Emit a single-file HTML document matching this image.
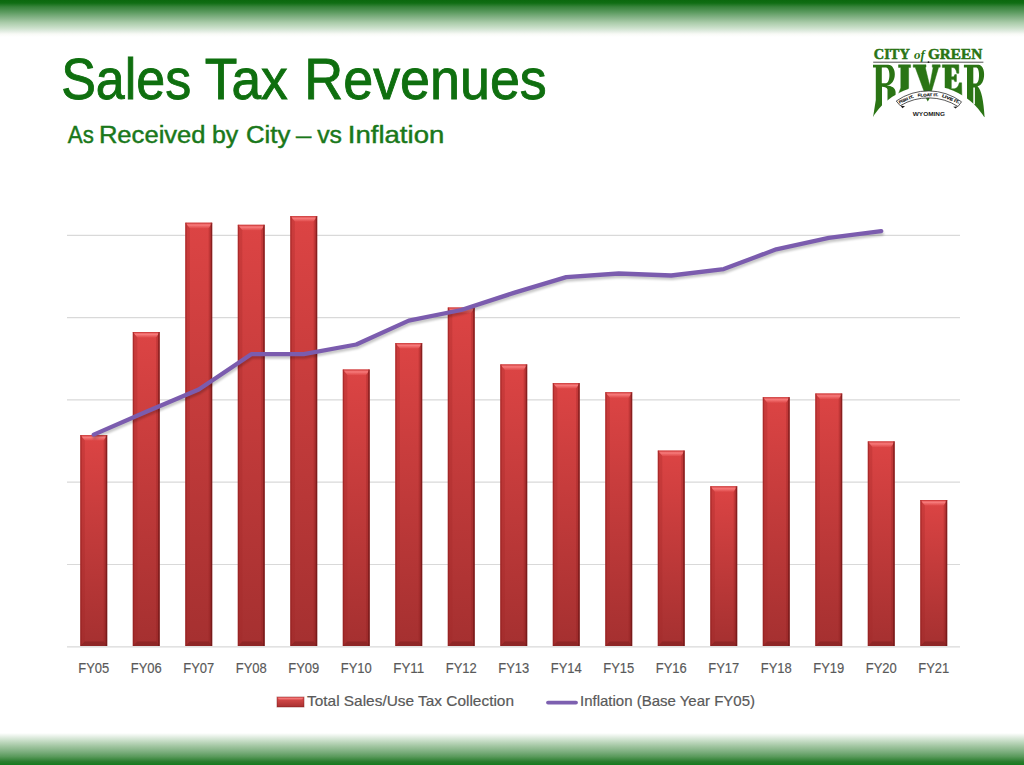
<!DOCTYPE html>
<html><head><meta charset="utf-8">
<style>
html,body{margin:0;padding:0;}
body{width:1024px;height:765px;position:relative;overflow:hidden;background:#fff;font-family:"Liberation Sans",sans-serif;}
.topband{position:absolute;left:0;top:0;width:1024px;height:37px;background:linear-gradient(to bottom,#0b680e 0%,#0f6d13 8%,#37833b 18.4%,#5a9a5e 32.4%,#83b285 46.8%,#a9cba9 60.8%,#c9dfc9 74.9%,#e3ede3 84.9%,#f8faf6 91.9%,#ffffff 100%);}
.botband{position:absolute;left:0;top:732.5px;width:1024px;height:32.5px;background:linear-gradient(to bottom,#ffffff 0%,#eaf2ea 9%,#c5dcc5 25%,#a2c6a2 41%,#7fb081 57.5%,#5a9a5c 73.5%,#2a7d2e 89.5%,#167a1e 100%);}
svg{position:absolute;left:0;top:0;}
.ax{font-family:"Liberation Sans",sans-serif;font-size:15.3px;fill:#595959;stroke:#595959;stroke-width:0.18px;}
.lg{font-family:"Liberation Sans",sans-serif;font-size:14.8px;fill:#595959;stroke:#595959;stroke-width:0.2px;}
</style></head><body>
<div class="topband"></div>
<div class="botband"></div>
<svg width="1024" height="765" viewBox="0 0 1024 765">
<defs>
<linearGradient id="barg" x1="0" y1="0" x2="0" y2="1">
<stop offset="0" stop-color="#dc4444"/><stop offset="1" stop-color="#a53030"/>
</linearGradient>
<linearGradient id="topbev" x1="0" y1="0" x2="0" y2="1">
<stop offset="0" stop-color="#f26a6a" stop-opacity="0.5"/><stop offset="0.45" stop-color="#ff8c8c" stop-opacity="0.75"/><stop offset="1" stop-color="#f26a6a" stop-opacity="0.25"/>
</linearGradient>
<linearGradient id="lgg" x1="0" y1="0" x2="0" y2="1">
<stop offset="0" stop-color="#e05050"/><stop offset="1" stop-color="#a83030"/>
</linearGradient>
<filter id="blur" x="-5%" y="-50%" width="110%" height="200%"><feGaussianBlur stdDeviation="1.2"/></filter>
</defs>
<g font-size="56.5" fill="#0f6f0f" stroke="#0f6f0f" stroke-width="0.9">
<text x="61.2" y="98.5" textLength="130" lengthAdjust="spacingAndGlyphs">Sales</text>
<text x="204.8" y="98.5" textLength="83" lengthAdjust="spacingAndGlyphs">Tax</text>
<text x="304.3" y="98.5" textLength="242.5" lengthAdjust="spacingAndGlyphs">Revenues</text>
</g>
<g font-size="24.6" fill="#1a781a" stroke="#1a781a" stroke-width="0.45">
<text x="67.8" y="142.8" textLength="26.0" lengthAdjust="spacingAndGlyphs">As</text>
<text x="98.9" y="142.8" textLength="106.7" lengthAdjust="spacingAndGlyphs">Received</text>
<text x="212.0" y="142.8" textLength="26.3" lengthAdjust="spacingAndGlyphs">by</text>
<text x="246.0" y="142.8" textLength="44.4" lengthAdjust="spacingAndGlyphs">City</text>
<text x="296.0" y="142.8" textLength="15.3" lengthAdjust="spacingAndGlyphs">–</text>
<text x="317.2" y="142.8" textLength="24.8" lengthAdjust="spacingAndGlyphs">vs</text>
<text x="347.8" y="142.8" textLength="96.5" lengthAdjust="spacingAndGlyphs">Inflation</text>
</g>
<line x1="67" y1="235.3" x2="960" y2="235.3" stroke="#d9d9d9" stroke-width="1.2"/>
<line x1="67" y1="317.6" x2="960" y2="317.6" stroke="#d9d9d9" stroke-width="1.2"/>
<line x1="67" y1="399.9" x2="960" y2="399.9" stroke="#d9d9d9" stroke-width="1.2"/>
<line x1="67" y1="482.2" x2="960" y2="482.2" stroke="#d9d9d9" stroke-width="1.2"/>
<line x1="67" y1="564.5" x2="960" y2="564.5" stroke="#d9d9d9" stroke-width="1.2"/>
<line x1="67" y1="646.8" x2="960" y2="646.8" stroke="#d9d9d9" stroke-width="1.2"/>
<g><rect x="80.30" y="435.1" width="26.9" height="210.90" fill="url(#barg)"/><polygon points="80.30,435.1 107.20,435.1 103.70,440.6 84.80,440.6" fill="url(#topbev)"/><polygon points="80.30,435.1 84.80,440.6 84.80,641.5 80.30,646" fill="#a02828" opacity="0.28"/><polygon points="107.20,435.1 103.70,440.6 103.70,641.5 107.20,646" fill="#8a1e1e" opacity="0.3"/><polygon points="80.30,646 84.80,641.5 103.70,641.5 107.20,646" fill="#5a1010" opacity="0.3"/><rect x="80.30" y="435.1" width="1.3" height="210.90" fill="#8a1818" opacity="0.45"/><rect x="105.70" y="435.1" width="1.5" height="210.90" fill="#5a0c0c" opacity="0.55"/><rect x="80.30" y="435.1" width="26.9" height="1" fill="#b82828" opacity="0.5"/></g>
<g><rect x="132.80" y="332" width="26.9" height="314.00" fill="url(#barg)"/><polygon points="132.80,332 159.70,332 156.20,337.5 137.30,337.5" fill="url(#topbev)"/><polygon points="132.80,332 137.30,337.5 137.30,641.5 132.80,646" fill="#a02828" opacity="0.28"/><polygon points="159.70,332 156.20,337.5 156.20,641.5 159.70,646" fill="#8a1e1e" opacity="0.3"/><polygon points="132.80,646 137.30,641.5 156.20,641.5 159.70,646" fill="#5a1010" opacity="0.3"/><rect x="132.80" y="332" width="1.3" height="314.00" fill="#8a1818" opacity="0.45"/><rect x="158.20" y="332" width="1.5" height="314.00" fill="#5a0c0c" opacity="0.55"/><rect x="132.80" y="332" width="26.9" height="1" fill="#b82828" opacity="0.5"/></g>
<g><rect x="185.30" y="222.7" width="26.9" height="423.30" fill="url(#barg)"/><polygon points="185.30,222.7 212.20,222.7 208.70,228.2 189.80,228.2" fill="url(#topbev)"/><polygon points="185.30,222.7 189.80,228.2 189.80,641.5 185.30,646" fill="#a02828" opacity="0.28"/><polygon points="212.20,222.7 208.70,228.2 208.70,641.5 212.20,646" fill="#8a1e1e" opacity="0.3"/><polygon points="185.30,646 189.80,641.5 208.70,641.5 212.20,646" fill="#5a1010" opacity="0.3"/><rect x="185.30" y="222.7" width="1.3" height="423.30" fill="#8a1818" opacity="0.45"/><rect x="210.70" y="222.7" width="1.5" height="423.30" fill="#5a0c0c" opacity="0.55"/><rect x="185.30" y="222.7" width="26.9" height="1" fill="#b82828" opacity="0.5"/></g>
<g><rect x="237.80" y="224.8" width="26.9" height="421.20" fill="url(#barg)"/><polygon points="237.80,224.8 264.70,224.8 261.20,230.3 242.30,230.3" fill="url(#topbev)"/><polygon points="237.80,224.8 242.30,230.3 242.30,641.5 237.80,646" fill="#a02828" opacity="0.28"/><polygon points="264.70,224.8 261.20,230.3 261.20,641.5 264.70,646" fill="#8a1e1e" opacity="0.3"/><polygon points="237.80,646 242.30,641.5 261.20,641.5 264.70,646" fill="#5a1010" opacity="0.3"/><rect x="237.80" y="224.8" width="1.3" height="421.20" fill="#8a1818" opacity="0.45"/><rect x="263.20" y="224.8" width="1.5" height="421.20" fill="#5a0c0c" opacity="0.55"/><rect x="237.80" y="224.8" width="26.9" height="1" fill="#b82828" opacity="0.5"/></g>
<g><rect x="290.30" y="216.1" width="26.9" height="429.90" fill="url(#barg)"/><polygon points="290.30,216.1 317.20,216.1 313.70,221.6 294.80,221.6" fill="url(#topbev)"/><polygon points="290.30,216.1 294.80,221.6 294.80,641.5 290.30,646" fill="#a02828" opacity="0.28"/><polygon points="317.20,216.1 313.70,221.6 313.70,641.5 317.20,646" fill="#8a1e1e" opacity="0.3"/><polygon points="290.30,646 294.80,641.5 313.70,641.5 317.20,646" fill="#5a1010" opacity="0.3"/><rect x="290.30" y="216.1" width="1.3" height="429.90" fill="#8a1818" opacity="0.45"/><rect x="315.70" y="216.1" width="1.5" height="429.90" fill="#5a0c0c" opacity="0.55"/><rect x="290.30" y="216.1" width="26.9" height="1" fill="#b82828" opacity="0.5"/></g>
<g><rect x="342.80" y="369.5" width="26.9" height="276.50" fill="url(#barg)"/><polygon points="342.80,369.5 369.70,369.5 366.20,375.0 347.30,375.0" fill="url(#topbev)"/><polygon points="342.80,369.5 347.30,375.0 347.30,641.5 342.80,646" fill="#a02828" opacity="0.28"/><polygon points="369.70,369.5 366.20,375.0 366.20,641.5 369.70,646" fill="#8a1e1e" opacity="0.3"/><polygon points="342.80,646 347.30,641.5 366.20,641.5 369.70,646" fill="#5a1010" opacity="0.3"/><rect x="342.80" y="369.5" width="1.3" height="276.50" fill="#8a1818" opacity="0.45"/><rect x="368.20" y="369.5" width="1.5" height="276.50" fill="#5a0c0c" opacity="0.55"/><rect x="342.80" y="369.5" width="26.9" height="1" fill="#b82828" opacity="0.5"/></g>
<g><rect x="395.30" y="343.1" width="26.9" height="302.90" fill="url(#barg)"/><polygon points="395.30,343.1 422.20,343.1 418.70,348.6 399.80,348.6" fill="url(#topbev)"/><polygon points="395.30,343.1 399.80,348.6 399.80,641.5 395.30,646" fill="#a02828" opacity="0.28"/><polygon points="422.20,343.1 418.70,348.6 418.70,641.5 422.20,646" fill="#8a1e1e" opacity="0.3"/><polygon points="395.30,646 399.80,641.5 418.70,641.5 422.20,646" fill="#5a1010" opacity="0.3"/><rect x="395.30" y="343.1" width="1.3" height="302.90" fill="#8a1818" opacity="0.45"/><rect x="420.70" y="343.1" width="1.5" height="302.90" fill="#5a0c0c" opacity="0.55"/><rect x="395.30" y="343.1" width="26.9" height="1" fill="#b82828" opacity="0.5"/></g>
<g><rect x="447.80" y="307.5" width="26.9" height="338.50" fill="url(#barg)"/><polygon points="447.80,307.5 474.70,307.5 471.20,313.0 452.30,313.0" fill="url(#topbev)"/><polygon points="447.80,307.5 452.30,313.0 452.30,641.5 447.80,646" fill="#a02828" opacity="0.28"/><polygon points="474.70,307.5 471.20,313.0 471.20,641.5 474.70,646" fill="#8a1e1e" opacity="0.3"/><polygon points="447.80,646 452.30,641.5 471.20,641.5 474.70,646" fill="#5a1010" opacity="0.3"/><rect x="447.80" y="307.5" width="1.3" height="338.50" fill="#8a1818" opacity="0.45"/><rect x="473.20" y="307.5" width="1.5" height="338.50" fill="#5a0c0c" opacity="0.55"/><rect x="447.80" y="307.5" width="26.9" height="1" fill="#b82828" opacity="0.5"/></g>
<g><rect x="500.30" y="364.4" width="26.9" height="281.60" fill="url(#barg)"/><polygon points="500.30,364.4 527.20,364.4 523.70,369.9 504.80,369.9" fill="url(#topbev)"/><polygon points="500.30,364.4 504.80,369.9 504.80,641.5 500.30,646" fill="#a02828" opacity="0.28"/><polygon points="527.20,364.4 523.70,369.9 523.70,641.5 527.20,646" fill="#8a1e1e" opacity="0.3"/><polygon points="500.30,646 504.80,641.5 523.70,641.5 527.20,646" fill="#5a1010" opacity="0.3"/><rect x="500.30" y="364.4" width="1.3" height="281.60" fill="#8a1818" opacity="0.45"/><rect x="525.70" y="364.4" width="1.5" height="281.60" fill="#5a0c0c" opacity="0.55"/><rect x="500.30" y="364.4" width="26.9" height="1" fill="#b82828" opacity="0.5"/></g>
<g><rect x="552.80" y="383.1" width="26.9" height="262.90" fill="url(#barg)"/><polygon points="552.80,383.1 579.70,383.1 576.20,388.6 557.30,388.6" fill="url(#topbev)"/><polygon points="552.80,383.1 557.30,388.6 557.30,641.5 552.80,646" fill="#a02828" opacity="0.28"/><polygon points="579.70,383.1 576.20,388.6 576.20,641.5 579.70,646" fill="#8a1e1e" opacity="0.3"/><polygon points="552.80,646 557.30,641.5 576.20,641.5 579.70,646" fill="#5a1010" opacity="0.3"/><rect x="552.80" y="383.1" width="1.3" height="262.90" fill="#8a1818" opacity="0.45"/><rect x="578.20" y="383.1" width="1.5" height="262.90" fill="#5a0c0c" opacity="0.55"/><rect x="552.80" y="383.1" width="26.9" height="1" fill="#b82828" opacity="0.5"/></g>
<g><rect x="605.30" y="392.2" width="26.9" height="253.80" fill="url(#barg)"/><polygon points="605.30,392.2 632.20,392.2 628.70,397.7 609.80,397.7" fill="url(#topbev)"/><polygon points="605.30,392.2 609.80,397.7 609.80,641.5 605.30,646" fill="#a02828" opacity="0.28"/><polygon points="632.20,392.2 628.70,397.7 628.70,641.5 632.20,646" fill="#8a1e1e" opacity="0.3"/><polygon points="605.30,646 609.80,641.5 628.70,641.5 632.20,646" fill="#5a1010" opacity="0.3"/><rect x="605.30" y="392.2" width="1.3" height="253.80" fill="#8a1818" opacity="0.45"/><rect x="630.70" y="392.2" width="1.5" height="253.80" fill="#5a0c0c" opacity="0.55"/><rect x="605.30" y="392.2" width="26.9" height="1" fill="#b82828" opacity="0.5"/></g>
<g><rect x="657.80" y="450.6" width="26.9" height="195.40" fill="url(#barg)"/><polygon points="657.80,450.6 684.70,450.6 681.20,456.1 662.30,456.1" fill="url(#topbev)"/><polygon points="657.80,450.6 662.30,456.1 662.30,641.5 657.80,646" fill="#a02828" opacity="0.28"/><polygon points="684.70,450.6 681.20,456.1 681.20,641.5 684.70,646" fill="#8a1e1e" opacity="0.3"/><polygon points="657.80,646 662.30,641.5 681.20,641.5 684.70,646" fill="#5a1010" opacity="0.3"/><rect x="657.80" y="450.6" width="1.3" height="195.40" fill="#8a1818" opacity="0.45"/><rect x="683.20" y="450.6" width="1.5" height="195.40" fill="#5a0c0c" opacity="0.55"/><rect x="657.80" y="450.6" width="26.9" height="1" fill="#b82828" opacity="0.5"/></g>
<g><rect x="710.30" y="486.25" width="26.9" height="159.75" fill="url(#barg)"/><polygon points="710.30,486.25 737.20,486.25 733.70,491.75 714.80,491.75" fill="url(#topbev)"/><polygon points="710.30,486.25 714.80,491.75 714.80,641.5 710.30,646" fill="#a02828" opacity="0.28"/><polygon points="737.20,486.25 733.70,491.75 733.70,641.5 737.20,646" fill="#8a1e1e" opacity="0.3"/><polygon points="710.30,646 714.80,641.5 733.70,641.5 737.20,646" fill="#5a1010" opacity="0.3"/><rect x="710.30" y="486.25" width="1.3" height="159.75" fill="#8a1818" opacity="0.45"/><rect x="735.70" y="486.25" width="1.5" height="159.75" fill="#5a0c0c" opacity="0.55"/><rect x="710.30" y="486.25" width="26.9" height="1" fill="#b82828" opacity="0.5"/></g>
<g><rect x="762.80" y="397.2" width="26.9" height="248.80" fill="url(#barg)"/><polygon points="762.80,397.2 789.70,397.2 786.20,402.7 767.30,402.7" fill="url(#topbev)"/><polygon points="762.80,397.2 767.30,402.7 767.30,641.5 762.80,646" fill="#a02828" opacity="0.28"/><polygon points="789.70,397.2 786.20,402.7 786.20,641.5 789.70,646" fill="#8a1e1e" opacity="0.3"/><polygon points="762.80,646 767.30,641.5 786.20,641.5 789.70,646" fill="#5a1010" opacity="0.3"/><rect x="762.80" y="397.2" width="1.3" height="248.80" fill="#8a1818" opacity="0.45"/><rect x="788.20" y="397.2" width="1.5" height="248.80" fill="#5a0c0c" opacity="0.55"/><rect x="762.80" y="397.2" width="26.9" height="1" fill="#b82828" opacity="0.5"/></g>
<g><rect x="815.30" y="393.5" width="26.9" height="252.50" fill="url(#barg)"/><polygon points="815.30,393.5 842.20,393.5 838.70,399.0 819.80,399.0" fill="url(#topbev)"/><polygon points="815.30,393.5 819.80,399.0 819.80,641.5 815.30,646" fill="#a02828" opacity="0.28"/><polygon points="842.20,393.5 838.70,399.0 838.70,641.5 842.20,646" fill="#8a1e1e" opacity="0.3"/><polygon points="815.30,646 819.80,641.5 838.70,641.5 842.20,646" fill="#5a1010" opacity="0.3"/><rect x="815.30" y="393.5" width="1.3" height="252.50" fill="#8a1818" opacity="0.45"/><rect x="840.70" y="393.5" width="1.5" height="252.50" fill="#5a0c0c" opacity="0.55"/><rect x="815.30" y="393.5" width="26.9" height="1" fill="#b82828" opacity="0.5"/></g>
<g><rect x="867.80" y="441.4" width="26.9" height="204.60" fill="url(#barg)"/><polygon points="867.80,441.4 894.70,441.4 891.20,446.9 872.30,446.9" fill="url(#topbev)"/><polygon points="867.80,441.4 872.30,446.9 872.30,641.5 867.80,646" fill="#a02828" opacity="0.28"/><polygon points="894.70,441.4 891.20,446.9 891.20,641.5 894.70,646" fill="#8a1e1e" opacity="0.3"/><polygon points="867.80,646 872.30,641.5 891.20,641.5 894.70,646" fill="#5a1010" opacity="0.3"/><rect x="867.80" y="441.4" width="1.3" height="204.60" fill="#8a1818" opacity="0.45"/><rect x="893.20" y="441.4" width="1.5" height="204.60" fill="#5a0c0c" opacity="0.55"/><rect x="867.80" y="441.4" width="26.9" height="1" fill="#b82828" opacity="0.5"/></g>
<g><rect x="920.30" y="500" width="26.9" height="146.00" fill="url(#barg)"/><polygon points="920.30,500 947.20,500 943.70,505.5 924.80,505.5" fill="url(#topbev)"/><polygon points="920.30,500 924.80,505.5 924.80,641.5 920.30,646" fill="#a02828" opacity="0.28"/><polygon points="947.20,500 943.70,505.5 943.70,641.5 947.20,646" fill="#8a1e1e" opacity="0.3"/><polygon points="920.30,646 924.80,641.5 943.70,641.5 947.20,646" fill="#5a1010" opacity="0.3"/><rect x="920.30" y="500" width="1.3" height="146.00" fill="#8a1818" opacity="0.45"/><rect x="945.70" y="500" width="1.5" height="146.00" fill="#5a0c0c" opacity="0.55"/><rect x="920.30" y="500" width="26.9" height="1" fill="#b82828" opacity="0.5"/></g>
<polyline points="93.75,434.60 146.25,411.80 198.75,389.50 251.25,354.20 303.75,354.20 356.25,344.50 408.75,320.60 461.25,310.00 513.75,292.90 566.25,277.10 618.75,273.50 671.25,275.50 723.75,269.10 776.25,249.30 828.75,237.90 881.25,231.10" fill="none" stroke="#000" stroke-opacity="0.22" stroke-width="4" stroke-linejoin="round" stroke-linecap="round" transform="translate(0.8,2.6)" filter="url(#blur)"/>
<polyline points="93.75,434.60 146.25,411.80 198.75,389.50 251.25,354.20 303.75,354.20 356.25,344.50 408.75,320.60 461.25,310.00 513.75,292.90 566.25,277.10 618.75,273.50 671.25,275.50 723.75,269.10 776.25,249.30 828.75,237.90 881.25,231.10" fill="none" stroke="#7b5cae" stroke-width="4.3" stroke-linejoin="round" stroke-linecap="round"/>
<text x="93.75" y="673" text-anchor="middle" class="ax" textLength="31" lengthAdjust="spacingAndGlyphs">FY05</text>
<text x="146.25" y="673" text-anchor="middle" class="ax" textLength="31" lengthAdjust="spacingAndGlyphs">FY06</text>
<text x="198.75" y="673" text-anchor="middle" class="ax" textLength="31" lengthAdjust="spacingAndGlyphs">FY07</text>
<text x="251.25" y="673" text-anchor="middle" class="ax" textLength="31" lengthAdjust="spacingAndGlyphs">FY08</text>
<text x="303.75" y="673" text-anchor="middle" class="ax" textLength="31" lengthAdjust="spacingAndGlyphs">FY09</text>
<text x="356.25" y="673" text-anchor="middle" class="ax" textLength="31" lengthAdjust="spacingAndGlyphs">FY10</text>
<text x="408.75" y="673" text-anchor="middle" class="ax" textLength="31" lengthAdjust="spacingAndGlyphs">FY11</text>
<text x="461.25" y="673" text-anchor="middle" class="ax" textLength="31" lengthAdjust="spacingAndGlyphs">FY12</text>
<text x="513.75" y="673" text-anchor="middle" class="ax" textLength="31" lengthAdjust="spacingAndGlyphs">FY13</text>
<text x="566.25" y="673" text-anchor="middle" class="ax" textLength="31" lengthAdjust="spacingAndGlyphs">FY14</text>
<text x="618.75" y="673" text-anchor="middle" class="ax" textLength="31" lengthAdjust="spacingAndGlyphs">FY15</text>
<text x="671.25" y="673" text-anchor="middle" class="ax" textLength="31" lengthAdjust="spacingAndGlyphs">FY16</text>
<text x="723.75" y="673" text-anchor="middle" class="ax" textLength="31" lengthAdjust="spacingAndGlyphs">FY17</text>
<text x="776.25" y="673" text-anchor="middle" class="ax" textLength="31" lengthAdjust="spacingAndGlyphs">FY18</text>
<text x="828.75" y="673" text-anchor="middle" class="ax" textLength="31" lengthAdjust="spacingAndGlyphs">FY19</text>
<text x="881.25" y="673" text-anchor="middle" class="ax" textLength="31" lengthAdjust="spacingAndGlyphs">FY20</text>
<text x="933.75" y="673" text-anchor="middle" class="ax" textLength="31" lengthAdjust="spacingAndGlyphs">FY21</text>
<rect x="277" y="697" width="27" height="10" fill="url(#lgg)"/>
<polygon points="277,697 304,697 301.5,700 279.5,700" fill="url(#topbev)"/>
<rect x="277" y="697" width="27" height="10" fill="none" stroke="#7a1818" stroke-opacity="0.5" stroke-width="0.9"/>
<text x="307" y="705.6" class="lg" textLength="207" lengthAdjust="spacingAndGlyphs">Total Sales/Use Tax Collection</text>
<line x1="548" y1="702.6" x2="576" y2="702.6" stroke="#7d60b0" stroke-width="3.8" stroke-linecap="round"/>
<text x="580" y="705.6" class="lg" textLength="175" lengthAdjust="spacingAndGlyphs">Inflation (Base Year FY05)</text>

<g id="logo">
<text x="873.8" y="58.7" font-family="Liberation Serif" font-weight="bold" font-size="13.8" fill="#2a7414" stroke="#2a7414" stroke-width="0.5" textLength="36" lengthAdjust="spacingAndGlyphs">CITY</text>
<text x="914" y="58.7" font-family="Liberation Serif" font-weight="bold" font-style="italic" font-size="13" fill="#2a7414" textLength="10.8" lengthAdjust="spacingAndGlyphs">of</text>
<text x="928" y="58.7" font-family="Liberation Serif" font-weight="bold" font-size="13.8" fill="#2a7414" stroke="#2a7414" stroke-width="0.5" textLength="54.2" lengthAdjust="spacingAndGlyphs">GREEN</text>
<line x1="873.2" y1="62.2" x2="983.4" y2="62.2" stroke="#505050" stroke-width="1"/>
<circle cx="928.5" cy="62.2" r="0.9" fill="#222"/>
<g fill="#2a7414" fill-rule="evenodd">
<path d="M873,64.8 L888,64.8 C897.2,64.8 897.6,84.8 886.5,85.6 C892,86 895.2,88 895.6,92 L895.6,112 L887.5,112 L887.5,89.5 C887,87.6 885,86.8 882,86.8 L882,112 L873,117.6 L875.8,100 L875.8,67.4 L873,67.4 Z M881.8,67.6 L886,67.6 C890.6,67.6 890.6,83.2 886,83.2 L881.8,83.2 Z"/>
<path stroke="#2a7414" stroke-width="0.5" d="M898.5,64.8 L910.6,64.8 L910.6,67.4 L908.6,67.4 L908.6,100 L896,100 L900.8,88 L900.8,67.4 L898.5,67.4 Z"/>
<path stroke="#2a7414" stroke-width="0.5" d="M942.3,64.8 L958.8,64.8 L958.8,73.3 L956.8,73.3 C956.2,69.5 955,67.5 952.5,67.5 L951.3,67.5 L951.3,76.8 L953.8,76.8 L954.8,74.6 L956.4,74.6 L956.4,81.6 L954.8,81.6 L953.8,79.6 L951.3,79.6 L951.3,88.8 L953.2,88.8 C957,88.8 958.5,86.2 959.3,82.8 L961.6,82.8 L962,104 L940,104 L945,88 L945,67.4 L942.3,67.4 Z"/>
<path d="M963.9,64.8 L978.5,64.8 C986.2,64.8 986.2,85.2 977.5,86.2 C981.5,90 983.5,100 984.6,117.2 L968,108 L974.9,104 L974.9,87.6 L973.3,87.6 L973.3,104 L967,104 L967,67.4 L963.9,67.4 Z M973.3,67.6 L976.3,67.6 C980,67.6 980,83.4 976.3,83.4 L973.3,83.4 Z"/>
</g>
<rect x="860" y="117.4" width="140" height="20" fill="#fff"/>
<circle cx="928.5" cy="150.8" r="65" fill="#fff"/>
<path fill="#2a7414" stroke="#2a7414" stroke-width="0.5" d="M913.2,64.8 L926,64.8 L926,67.2 L925.2,67.2 L929.7,85.8 L933.2,67.2 L932.3,67.2 L932.3,64.8 L940.2,64.8 L940.2,67.2 L938.6,67.2 L931.3,92 L924.3,92 L915.2,67.2 L913.2,67.2 Z"/>
<polygon points="925.6,97.6 930,97.6 927.8,101.6" fill="#2a7414"/>
<path d="M896.25,101 A55.9,55.9 0 0 1 961.5,101.8 L958,106.5 A55,55 0 0 0 900.2,105.7 Z" fill="#fff" stroke="#3a3a3a" stroke-width="0.85"/>
<path d="M900.4,105.6 L905,106.2 L902.4,108.2 Z" fill="#1a1a1a"/>
<path d="M957.8,106.4 L953.2,106.8 L955.6,108.6 Z" fill="#1a1a1a"/>
<g font-family="Liberation Sans" font-weight="bold" font-size="3.8" fill="#1a1a1a" stroke="#1a1a1a" stroke-width="0.2" text-anchor="middle">
<text x="0" y="0" transform="translate(906.6,100.5) rotate(-23)" textLength="15.6" lengthAdjust="spacingAndGlyphs">FISH IT.</text>
<text x="0" y="0" transform="translate(928,96.3) rotate(-1)" textLength="20.4" lengthAdjust="spacingAndGlyphs">FLOAT IT.</text>
<text x="0" y="0" transform="translate(950.2,100.1) rotate(22)" textLength="18.4" lengthAdjust="spacingAndGlyphs">LIVE IT.</text>
</g>
<text x="912.8" y="115.6" font-family="Liberation Sans" font-weight="bold" font-size="4.8" fill="#1a1a1a" textLength="32.2" lengthAdjust="spacingAndGlyphs">WYOMING</text>
</g>

</svg>
</body></html>
